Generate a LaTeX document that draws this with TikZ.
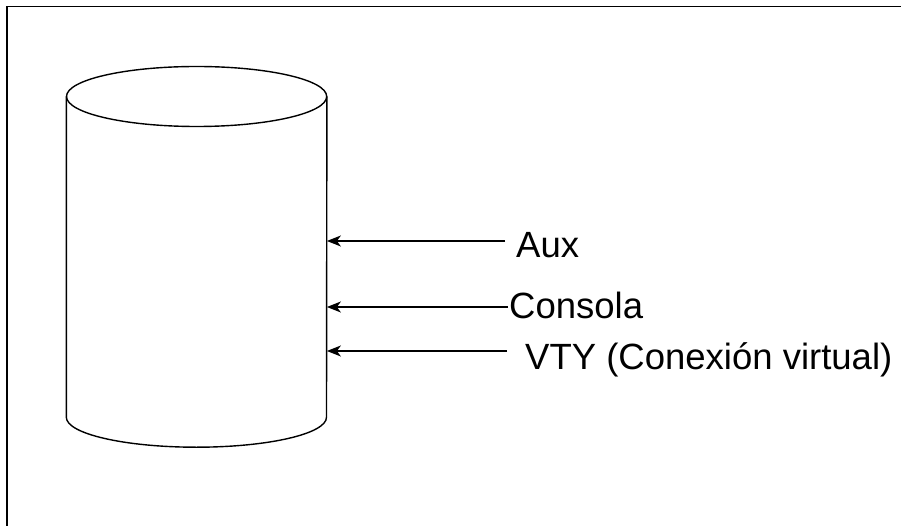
\documentclass[tikz,border=0pt]{standalone}
\usepackage{fontspec}
\setmainfont{Liberation Sans}
\usetikzlibrary{arrows.meta}
\begin{document}
\begin{tikzpicture}[x=1pt,y=1pt,
  outline/.style={line width=1.4pt},
  link/.style={line width=1.4pt,-{Stealth[length=14pt,width=11pt,inset=4pt]}},
  port/.style={anchor=base west,inner sep=0pt,font=\fontsize{36.5}{44}\selectfont}]
\useasboundingbox (0,0) rectangle (901,525);

% Frame
\draw[line width=1.6pt] (7,-10) -- (7,518.5) -- (911,518.5);

% Device (cylinder)
\node[minimum width=260.2pt,minimum height=320.3pt,inner sep=0pt] (device) at (196.6,268.15) {};
\draw[outline] (device.north west) -- (device.south west)
  arc[start angle=180,end angle=360,x radius=130.1,y radius=30] -- (device.north east);
\draw[outline] (device.north) ellipse[x radius=130.1,y radius=30];

% Ports
\node[port] (aux) at (516,267) {Aux};
\node[port] (consola) at (509,207) {Consola};
\node[port] (vty) at (525,156) {VTY (Conexión virtual)};

% Connections
\coordinate (aux-in) at ([shift={(-11pt,17pt)}]aux.base west);
\coordinate (consola-in) at ([shift={(-1pt,11pt)}]consola.base west);
\coordinate (vty-in) at ([shift={(-18pt,18pt)}]vty.base west);
\draw[link] (aux-in) -- (aux-in -| device.east);
\draw[link] (consola-in) -- (consola-in -| device.east);
\draw[link] (vty-in) -- (vty-in -| device.east);
\end{tikzpicture}
\end{document}
